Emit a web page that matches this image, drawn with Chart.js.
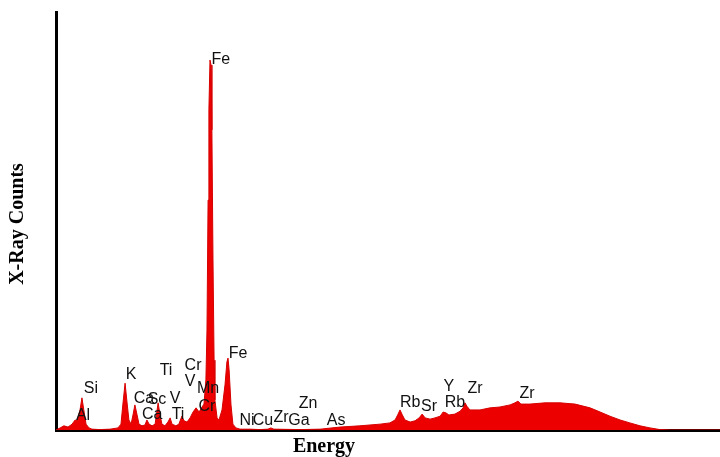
<!DOCTYPE html>
<html>
<head>
<meta charset="utf-8">
<script src="https://cdn.jsdelivr.net/npm/chart.js@4/dist/chart.umd.min.js"></script>
<style>
  html, body { margin: 0; padding: 0; background: #ffffff; }
  #wrap { width: 720px; height: 457px; position: relative; }
</style>
</head>
<body>
<div id="wrap"><canvas id="c" width="720" height="457"></canvas></div>
<script>
// XRF spectrum: photon energy (keV) and detector counts
const energy = [0.77,0.92,1.06,1.21,1.36,1.47,1.54,1.65,1.72,1.80,1.87,1.98,2.09,2.38,2.75,3.04,3.15,3.22,3.30,3.37,3.44,3.52,3.59,3.66,3.74,3.81,3.92,4.03,4.10,4.18,4.29,4.40,4.51,4.58,4.65,4.76,4.87,4.95,5.02,5.16,5.27,5.38,5.46,5.57,5.68,5.79,5.90,6.01,6.12,6.19,6.26,6.30,6.34,6.37,6.41,6.45,6.48,6.52,6.56,6.59,6.67,6.74,6.85,6.96,7.03,7.07,7.11,7.18,7.25,7.36,7.51,7.88,8.24,8.53,8.64,8.75,9.71,10.44,11.17,11.90,12.27,12.64,13.00,13.19,13.30,13.37,13.44,13.55,13.74,13.92,14.07,14.18,14.29,14.47,14.65,14.84,14.95,15.05,15.16,15.38,15.57,15.68,15.75,15.82,15.93,16.30,16.67,17.03,17.40,17.58,17.69,17.80,18.13,18.68,19.23,19.78,20.33,20.70,21.06,21.43,21.79,22.16,22.53,22.89,23.26,25.09];
const counts = [0,5,10,7,14,24,22,48,77,43,14,5,2,1,2,5,14,62,112,67,24,14,36,60,36,14,10,12,24,14,10,14,65,36,14,10,19,29,14,10,14,33,22,19,29,43,53,43,55,62,120,239,550,766,885,873,718,407,167,72,29,24,48,108,163,172,144,60,14,5,2,2,1,2,5,2,1,2,7,10,12,14,17,24,38,48,38,24,19,22,29,38,29,26,29,33,43,41,36,38,45,53,65,57,48,48,53,55,60,65,69,62,62,65,65,62,53,43,33,24,17,10,5,1,0,0];

// Element line labels: name, energy (keV) and count level where each is written
const lineNames  = ["Al","Si","K","Ca","Sc","Ca","Ti","V","Ti","Cr","V","Mn","Cr","Fe","Fe","Ni","Cu","Zr","Ga","Zn","As","Rb","Sr","Y","Rb","Zr","Zr"];
const lineEnergy = [1.76,2.05,3.52,3.99,4.47,4.29,4.80,5.13,5.24,5.79,5.68,6.34,6.30,6.81,7.44,7.77,8.35,9.01,9.67,10.00,11.03,13.74,14.43,15.16,15.38,16.12,18.02];
const lineLevel  = [34,98,132,74,72,36,142,74,38,155,117,98,57,887,182,22,22,29,22,62,22,65,55,105,65,98,86];

const labelPlugin = {
  id: 'lineLabels',
  afterDatasetsDraw(chart) {
    const ctx = chart.ctx;
    const xs = chart.scales.x, ys = chart.scales.y;
    ctx.save();
    ctx.fillStyle = '#111111';
    ctx.font = '16px "Liberation Sans", Arial, sans-serif';
    ctx.textAlign = 'center';
    ctx.textBaseline = 'middle';
    lineNames.forEach((n, i) => {
      ctx.fillText(n, xs.getPixelForValue(lineEnergy[i]), ys.getPixelForValue(lineLevel[i]));
    });
    // axis titles
    ctx.fillStyle = '#000000';
    ctx.font = 'bold 20px "Liberation Serif", "Times New Roman", serif';
    ctx.fillText('Energy', 324, 447);
    ctx.translate(18, 224);
    ctx.rotate(-Math.PI / 2);
    ctx.fillText('X-Ray Counts', 0, 0);
    ctx.restore();
  }
};

new Chart(document.getElementById('c'), {
  type: 'line',
  data: {
    datasets: [{
      data: energy.map((e, i) => ({ x: e, y: counts[i] })),
      borderColor: 'rgb(215,0,0)',
      borderWidth: 1,
      backgroundColor: 'rgb(236,0,0)',
      fill: 'origin',
      pointRadius: 0,
      tension: 0
    }]
  },
  options: {
    responsive: false,
    animation: false,
    layout: { padding: { left: 56, top: 12, right: 0, bottom: 27 } },
    plugins: { legend: { display: false }, tooltip: { enabled: false }, title: { display: false } },
    scales: {
      x: {
        type: 'linear', min: 0.77, max: 25.09,
        ticks: { display: false },
        grid: { display: false, drawTicks: false },
        border: { display: true, color: '#000000', width: 3 }
      },
      y: {
        min: 0, max: 1000,
        ticks: { display: false },
        grid: { display: false, drawTicks: false },
        border: { display: true, color: '#000000', width: 3 }
      }
    }
  },
  plugins: [labelPlugin]
});
</script>
</body>
</html>
